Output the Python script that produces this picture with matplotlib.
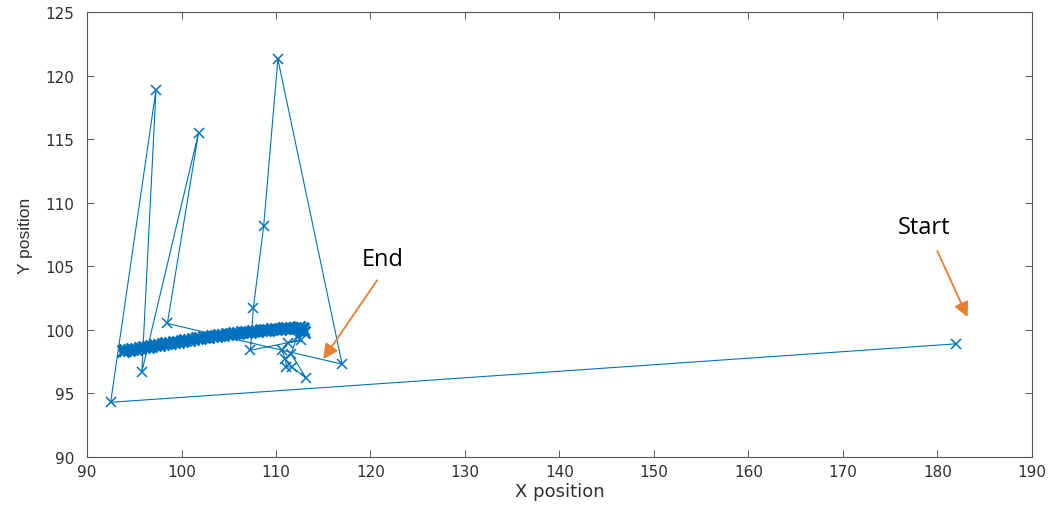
import matplotlib
matplotlib.use("Agg")
import matplotlib.pyplot as plt

# --- trajectory data ---
# early, jumpy part of the trajectory
path_x = [182.0, 92.5, 97.3, 95.8, 101.8, 98.5, 117.0, 110.2, 108.7, 107.6, 107.3,
          112.7, 111.3, 110.6, 111.0, 111.1, 111.7, 113.2, 111.6, 112.2, 112.9]
path_y = [98.9, 94.3, 118.9, 96.7, 115.5, 100.5, 97.3, 121.3, 108.2, 101.7, 98.4,
          99.2, 99.0, 98.4, 97.7, 97.1, 97.06, 96.2, 98.1, 99.4, 100.1]

# converged dense band
band_x = [112.9, 113.0, 112.8, 112.4, 112.0, 111.6, 111.2, 110.8, 110.4, 110.0, 109.6, 109.2,
          108.8, 108.4, 108.0, 107.6, 107.2, 106.8, 106.4, 106.0, 105.6, 105.2,
          104.8, 104.4, 104.0, 103.6, 103.2, 102.8, 102.4, 102.0, 101.6, 101.2,
          100.8, 100.4, 100.0, 99.6, 99.2, 98.8, 98.4, 98.0, 97.6, 97.2, 96.8,
          96.4, 96.0, 95.6, 95.2, 94.8, 94.4, 94.0, 93.8]
band_y = [100.1, 99.8, 100.15, 100.2, 100.18, 100.17, 100.15, 100.12, 100.1, 100.08, 100.05, 100.02,
          99.99, 99.96, 99.93, 99.9, 99.87, 99.84, 99.8, 99.77, 99.73, 99.7,
          99.66, 99.62, 99.58, 99.54, 99.5, 99.46, 99.42, 99.37, 99.33, 99.28,
          99.23, 99.18, 99.13, 99.08, 99.03, 98.98, 98.93, 98.88, 98.83, 98.78, 98.73,
          98.68, 98.63, 98.58, 98.53, 98.48, 98.43, 98.38, 98.36]

x_ticks = [90, 100, 110, 120, 130, 140, 150, 160, 170, 180, 190]
y_ticks = [90, 95, 100, 105, 110, 115, 120, 125]

fig = plt.figure(figsize=(10.55, 5.06), dpi=100)
ax = fig.add_axes([0.0825, 0.095, 0.8955, 0.879])

blue = "#0072BD"
ax.plot(path_x, path_y, color=blue, lw=0.8, marker="x", ms=7, mew=1.1)
# dense converged part: overlapping markers form a solid band
ax.plot(band_x, band_y, color=blue, lw=6.0, marker="x", ms=8.5, mew=1.8,
        solid_capstyle="round")

ax.set_xlim(90, 190)
ax.set_ylim(90, 125)
ax.set_xticks(x_ticks)
ax.set_yticks(y_ticks)

tick_col = "#303030"
ax.tick_params(direction="in", top=True, right=True, length=5, width=0.7,
               colors="#555555", labelcolor=tick_col, labelsize=11)
ax.tick_params(axis="y", pad=9)
ax.tick_params(axis="x", pad=5)
for lab in ax.get_xticklabels() + ax.get_yticklabels():
    lab.set_family("DejaVu Sans")
for s in ax.spines.values():
    s.set_color("#555555")
    s.set_linewidth(0.8)

ax.set_xlabel("X position", family="DejaVu Sans", fontsize=13, color=tick_col, labelpad=2)
ax.set_ylabel("Y position", family="Liberation Sans", fontsize=12.5, color=tick_col, labelpad=9)

orange = "#ED7D31"
arrow = dict(arrowstyle="-|>,head_length=0.9,head_width=0.45", color=orange, lw=1.3,
             shrinkA=0, shrinkB=0)
ax.annotate("", xy=(183.2, 101.0), xytext=(180.0, 106.2), arrowprops=arrow)
ax.text(178.6, 108.1, "Start", ha="center", va="center", fontsize=17, family="Open Sans")
ax.annotate("", xy=(115.0, 97.7), xytext=(120.7, 103.9), arrowprops=arrow)
ax.text(121.3, 105.6, "End", ha="center", va="center", fontsize=17, family="Open Sans")

fig.savefig("out.png", dpi=100)
